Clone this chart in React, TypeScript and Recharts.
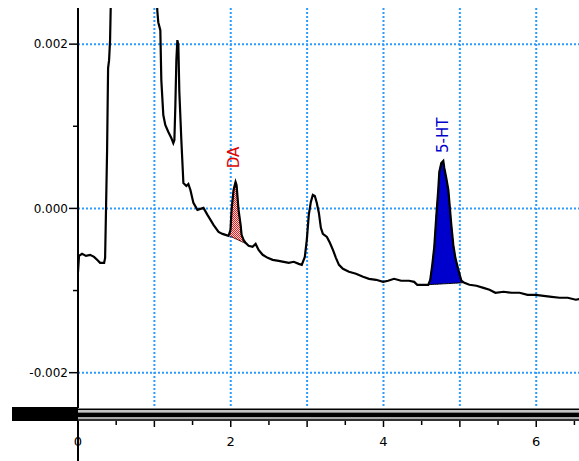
import React from 'react';
import { ComposedChart, Line, Area, XAxis, YAxis, CartesianGrid, ReferenceDot } from 'recharts';

// retention time (min) and detector signal
const times = [
  0.0, 0.013, 0.053, 0.105, 0.158, 0.21, 0.25, 0.289, 0.342, 0.355,
  0.368, 0.381, 0.394, 0.407, 0.42, 0.44, 0.5, 0.7, 0.9, 1.02,
  1.038, 1.051, 1.078, 1.091, 1.117, 1.143, 1.183, 1.222, 1.248, 1.262,
  1.275, 1.288, 1.301, 1.314, 1.327, 1.353, 1.38, 1.419, 1.445, 1.472,
  1.511, 1.564, 1.603, 1.643, 1.695, 1.735, 1.774, 1.84, 1.892, 1.932,
  1.971, 1.997, 2.011, 2.037, 2.063, 2.076, 2.102, 2.129, 2.142, 2.168,
  2.194, 2.234, 2.286, 2.326, 2.365, 2.418, 2.484, 2.549, 2.628, 2.694,
  2.76, 2.825, 2.891, 2.93, 2.97, 2.996, 3.022, 3.049, 3.075, 3.101,
  3.127, 3.154, 3.18, 3.206, 3.259, 3.298, 3.338, 3.377, 3.417, 3.469,
  3.548, 3.64, 3.732, 3.811, 3.903, 3.995, 4.06, 4.139, 4.231, 4.336,
  4.402, 4.442, 4.52, 4.586, 4.612, 4.639, 4.665, 4.691, 4.717, 4.731,
  4.757, 4.783, 4.796, 4.822, 4.849, 4.888, 4.914, 4.941, 4.98, 5.02,
  5.059, 5.125, 5.217, 5.309, 5.388, 5.466, 5.572, 5.677, 5.782, 5.887,
  5.992, 6.097, 6.202, 6.307, 6.413, 6.518, 6.583,
];
const signal = [
  -0.000772, -0.000578, -0.000553, -0.000578, -0.000565, -0.00059, -0.000626, -0.000663, -0.000663, -0.000602,
  0.000043, 0.000711, 0.001708, 0.001805, 0.002049, 0.003, 0.0045, 0.008, 0.006, 0.003,
  0.002413, 0.002267, 0.00217, 0.001562, 0.001137, 0.001015, 0.00093, 0.000857, 0.000796, 0.000833,
  0.001258, 0.001805, 0.002049, 0.001988, 0.001416, 0.000833, 0.00031, 0.000274, 0.000298, 0.000225,
  0.000067, -0.000018, -0.000006, 0.000006, -0.000079, -0.00014, -0.000201, -0.000286, -0.00031, -0.000322,
  -0.000334, -0.000261, -0.000018, 0.000225, 0.000322, 0.000286, -0.000018, -0.000201, -0.000322, -0.000383,
  -0.000419, -0.000456, -0.000468, -0.000432, -0.000505, -0.000565, -0.000602, -0.000626, -0.000638, -0.00065,
  -0.000663, -0.00065, -0.000675, -0.000687, -0.00059, -0.000383, -0.000079, 0.000079, 0.000164, 0.000152,
  0.000067, -0.000055, -0.000237, -0.00031, -0.000347, -0.000419, -0.000505, -0.000602, -0.000687, -0.000736,
  -0.000772, -0.000796, -0.000833, -0.000857, -0.000869, -0.000894, -0.000881, -0.000857, -0.000881, -0.000881,
  -0.000894, -0.00093, -0.00093, -0.00093, -0.000869, -0.000687, -0.000468, -0.000103, 0.000225, 0.000444,
  0.000553, 0.000578, 0.000492, 0.000371, 0.000225, -0.000201, -0.000444, -0.000602, -0.000748, -0.000881,
  -0.000906, -0.00093, -0.000942, -0.000967, -0.000991, -0.001027, -0.001015, -0.001027, -0.001027, -0.001052,
  -0.001052, -0.001064, -0.001076, -0.001088, -0.001088, -0.001112, -0.0011,
];

// DA peak (integrated area)
const daTimes = [1.99, 1.997, 2.011, 2.037, 2.063, 2.076, 2.102, 2.129, 2.142, 2.168, 2.194, 2.207];
const daTop = [-0.000315, -0.000261, -0.000018, 0.000225, 0.000322, 0.000286, -0.000018, -0.000201, -0.000322, -0.000383, -0.000419, -0.000432];
const daBase = [-0.000337, -0.00034, -0.000346, -0.000357, -0.000369, -0.000374, -0.000386, -0.000398, -0.000404, -0.000415, -0.000426, -0.000432];

// 5-HT peak (integrated area)
const htTimes = [4.592, 4.612, 4.639, 4.665, 4.691, 4.717, 4.731, 4.757, 4.783, 4.796, 4.822, 4.849, 4.888, 4.914, 4.941, 4.98, 5.02, 5.04];
const htTop = [-0.000928, -0.000869, -0.000687, -0.000468, -0.000103, 0.000225, 0.000444, 0.000553, 0.000578, 0.000492, 0.000371, 0.000225, -0.000201, -0.000444, -0.000602, -0.000748, -0.000881, -0.000905];
const htBase = [-0.000928, -0.000927, -0.000926, -0.000924, -0.000923, -0.000922, -0.000921, -0.00092, -0.000918, -0.000918, -0.000916, -0.000915, -0.000913, -0.000911, -0.00091, -0.000908, -0.000906, -0.000905];

// peak names and where their labels sit
const peakNames = ['DA', '5-HT'];
const peakLabelTimes = [2.04, 4.77];
const peakLabelValues = [0.00062, 0.00089];
const peakColors = ['#e00000', '#0000cc'];

const xTicks = [0, 0.5, 1, 1.5, 2, 2.5, 3, 3.5, 4, 4.5, 5, 5.5, 6, 6.5];
const xLabels = [0, 2, 4, 6];
const xGrid = [0, 1, 2, 3, 4, 5, 6];
const yTicks = [-0.002, -0.001, 0, 0.001, 0.002];
const yLabels = [-0.002, 0, 0.002];
const yGrid = [-0.002, 0, 0.002];

const traceData = times.map((t, i) => ({ t, v: signal[i] }));
const daData = daTimes.map((t, i) => ({ t, range: [daBase[i], daTop[i]] }));
const htData = htTimes.map((t, i) => ({ t, range: [htBase[i], htTop[i]] }));

const FONT = 'DejaVu Sans';
const near = (arr: number[], v: number) => arr.some((a) => Math.abs(a - v) < 1e-9);

const XTick = (props: any) => {
  const { x, y, payload } = props;
  const val = payload.value;
  const major = Math.abs(val - Math.round(val)) < 1e-9;
  return (
    <g>
      <line x1={x} x2={x} y1={y + 13} y2={y + (major ? 19 : 17)} stroke="#000" strokeWidth={1.5} />
      {near(xLabels, val) && (
        <text x={x} y={y + 38} textAnchor="middle" fontFamily={FONT} fontSize={13} fill="#000">
          {String(val)}
        </text>
      )}
    </g>
  );
};

const YTick = (props: any) => {
  const { x, y, payload } = props;
  const val = payload.value;
  const labeled = near(yLabels, val);
  return (
    <g>
      <line x1={x - (labeled ? 9 : 5)} x2={x} y1={y} y2={y} stroke="#000" strokeWidth={1.5} />
      {labeled && (
        <text x={x - 10} y={y} dy="0.36em" textAnchor="end" fontFamily={FONT} fontSize={12} fill="#000">
          {val.toFixed(3)}
        </text>
      )}
    </g>
  );
};

export default function App() {
  return (
    <div style={{ position: 'absolute', left: 0, top: 0, width: 579, height: 461, background: '#fff' }}>
      <ComposedChart
        width={579}
        height={461}
        margin={{ top: 8, right: 0, bottom: 0, left: 0 }}
      >
        <defs>
          <pattern id="daHatch" patternUnits="userSpaceOnUse" width={2} height={2}>
            <rect x={0} y={0} width={2} height={2} fill="#ffd6d6" />
            <rect x={0} y={0} width={1} height={1} fill="#e82020" />
            <rect x={1} y={1} width={1} height={1} fill="#e82020" />
          </pattern>
        </defs>
        <CartesianGrid
          stroke="#2b9bff"
          strokeWidth={2}
          strokeDasharray="2 2"
          horizontalValues={yGrid}
          verticalValues={xGrid}
        />
        <XAxis
          dataKey="t"
          type="number"
          domain={[0, 6.56]}
          allowDataOverflow
          ticks={xTicks}
          interval={0}
          height={53}
          axisLine={false}
          tickLine={false}
          tickSize={0}
          tickMargin={0}
          tick={<XTick />}
        />
        <YAxis
          type="number"
          domain={[-0.00243, 0.00244]}
          allowDataOverflow
          ticks={yTicks}
          interval={0}
          width={78}
          axisLine={{ stroke: '#000', strokeWidth: 2 }}
          tickLine={false}
          tickSize={0}
          tickMargin={0}
          tick={<YTick />}
        />
        <Area
          data={daData}
          dataKey="range"
          type="linear"
          fill="url(#daHatch)"
          fillOpacity={1}
          stroke="#400000"
          strokeWidth={1}
          isAnimationActive={false}
          dot={false}
          activeDot={false}
        />
        <Area
          data={htData}
          dataKey="range"
          type="linear"
          fill="#0000cc"
          fillOpacity={1}
          stroke="#000"
          strokeWidth={1}
          isAnimationActive={false}
          dot={false}
          activeDot={false}
        />
        <Line
          data={traceData}
          dataKey="v"
          type="linear"
          stroke="#000"
          strokeWidth={2.2}
          dot={false}
          activeDot={false}
          isAnimationActive={false}
        />
        {peakNames.map((name, i) => (
          <ReferenceDot
            key={name}
            x={peakLabelTimes[i]}
            y={peakLabelValues[i]}
            r={0}
            fill="none"
            stroke="none"
            label={{
              value: name,
              angle: -90,
              position: 'center',
              fill: peakColors[i],
              fontSize: 15,
              fontFamily: FONT,
            }}
          />
        ))}
      </ComposedChart>
      <svg width={579} height={461} style={{ position: 'absolute', left: 0, top: 0, pointerEvents: 'none' }}>
        <rect x={12} y={407} width={66} height={14} fill="#000" />
        <rect x={78} y={408} width={501} height={1} fill="#808080" />
        <rect x={78} y={409} width={501} height={1} fill="#000" />
        <rect x={78} y={410} width={501} height={2} fill="#c4c4c4" />
        <rect x={78} y={412} width={501} height={1} fill="#808080" />
        <rect x={78} y={413} width={501} height={4} fill="#000" />
        <rect x={78} y={417} width={501} height={2} fill="#a8a8a8" />
        <rect x={78} y={419} width={501} height={2} fill="#303030" />
        <line x1={78} x2={78} y1={421} y2={461} stroke="#000" strokeWidth={2} />
      </svg>
    </div>
  );
}
